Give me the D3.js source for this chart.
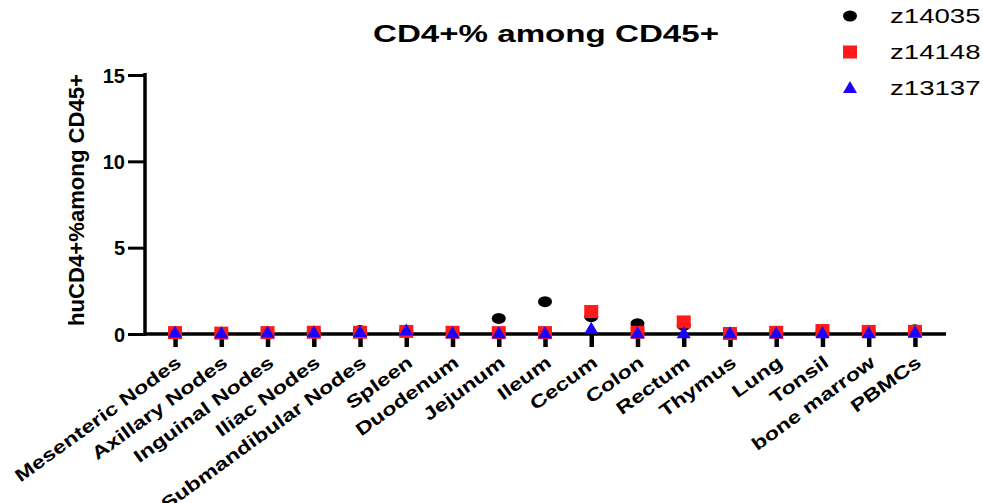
<!DOCTYPE html>
<html>
<head>
<meta charset="utf-8">
<script src="https://cdn.jsdelivr.net/npm/d3@7"></script>
<style>
  body { margin: 0; background: #fff; }
  svg { font-family: "Liberation Sans", Arial, sans-serif; }
</style>
</head>
<body>
<div id="chart"></div>
<script>
const tissues = ["Mesenteric Nodes", "Axillary Nodes", "Inguinal Nodes", "Iliac Nodes", "Submandibular Nodes",
  "Spleen", "Duodenum", "Jejunum", "Ileum", "Cecum", "Colon", "Rectum", "Thymus", "Lung", "Tonsil",
  "bone marrow", "PBMCs"];

const z14035 = [0.05, 0.03, 0.05, 0.15, 0.2, 0.2, 0.1, 0.9, 1.87, 1.0, 0.6, 0.5, 0.02, 0.12, 0.1, 0.1, 0.25];
const z14148 = [0.08, 0.05, 0.08, 0.1, 0.1, 0.15, 0.1, 0.08, 0.08, 1.3, 0.1, 0.7, 0.03, 0.1, 0.2, 0.15, 0.15];
const z13137 = [0.08, 0.05, 0.08, 0.1, 0.12, 0.2, 0.05, 0.05, 0.05, 0.3, 0.05, 0.05, 0.05, 0.05, 0.05, 0.05, 0.1];

const yTicks = [0, 5, 10, 15];

const series = [
  { name: "z14035", values: z14035, color: "#000000", shape: "circle" },
  { name: "z14148", values: z14148, color: "#ff1a1a", shape: "square" },
  { name: "z13137", values: z13137, color: "#1a00ff", shape: "triangle" }
];

const width = 983, height = 503;
const svg = d3.select("#chart").append("svg").attr("width", width).attr("height", height);

const x = d3.scalePoint().domain(tissues).range([145, 945]).padding(0.65);
const y = d3.scaleLinear().domain([0, 15]).range([334, 75]);

// the original picture is stretched sideways, so widen text to match
function stretch(sel, k) {
  sel.each(function () {
    const len = this.getComputedTextLength();
    d3.select(this).attr("textLength", len * k).attr("lengthAdjust", "spacingAndGlyphs");
  });
}

function marker(sel, shape, color) {
  if (shape === "circle") {
    sel.append("ellipse").attr("rx", 7).attr("ry", 5.5).attr("fill", color);
  } else if (shape === "square") {
    sel.append("rect").attr("x", -7).attr("y", -6.5).attr("width", 14).attr("height", 13).attr("fill", color);
  } else {
    sel.append("path").attr("d", "M0,-7L7,5L-7,5Z").attr("fill", color);
  }
}

// axes
const yAxis = svg.append("g").attr("transform", "translate(145,0)")
  .call(d3.axisLeft(y).tickValues(yTicks).tickSize(17).tickPadding(3));
yAxis.select(".domain").attr("stroke", "#000").attr("stroke-width", 3.5).attr("d", "M0,73V335.5");
yAxis.selectAll(".tick line").attr("stroke", "#000").attr("stroke-width", 3);
yAxis.selectAll(".tick text").attr("font-size", 20).attr("font-weight", "bold").attr("fill", "#000")
  .attr("dy", "0.36em");

const xAxis = svg.append("g").attr("transform", "translate(0,334)")
  .call(d3.axisBottom(x).tickSize(13));
xAxis.select(".domain").attr("stroke", "#000").attr("stroke-width", 3.5).attr("d", "M143.5,0H946");
xAxis.selectAll(".tick line").attr("stroke", "#000").attr("stroke-width", 4.5);
xAxis.selectAll(".tick text")
  .attr("font-size", 18).attr("font-weight", "bold").attr("fill", "#000")
  .attr("text-anchor", "end")
  .attr("y", 0).attr("dy", 0)
  .attr("transform", "translate(7,31) rotate(-36)")
  .call(stretch, 1.3);

// points
series.forEach(s => {
  svg.append("g").selectAll("g")
    .data(s.values)
    .join("g")
    .attr("transform", (d, i) => `translate(${x(tissues[i])},${y(d)})`)
    .each(function () { marker(d3.select(this), s.shape, s.color); });
});

// title
svg.append("text").attr("x", 546).attr("y", 42).attr("text-anchor", "middle")
  .attr("font-size", 24).attr("font-weight", "bold").text("CD4+% among CD45+")
  .call(stretch, 1.38);

// y label
svg.append("text").attr("transform", "translate(84,200) rotate(-90)")
  .attr("text-anchor", "middle").attr("font-size", 22).attr("font-weight", "bold")
  .attr("textLength", 252).attr("lengthAdjust", "spacingAndGlyphs")
  .text("huCD4+%among CD45+");

// legend
const legend = svg.append("g").selectAll("g").data(series).join("g")
  .attr("transform", (d, i) => `translate(850,${16 + i * 36})`);
legend.each(function (d) { marker(d3.select(this), d.shape, d.color); });
legend.append("text").attr("x", 40).attr("y", 0).attr("dy", "0.36em")
  .attr("font-size", 20).text(d => d.name)
  .call(stretch, 1.38);
</script>
</body>
</html>
